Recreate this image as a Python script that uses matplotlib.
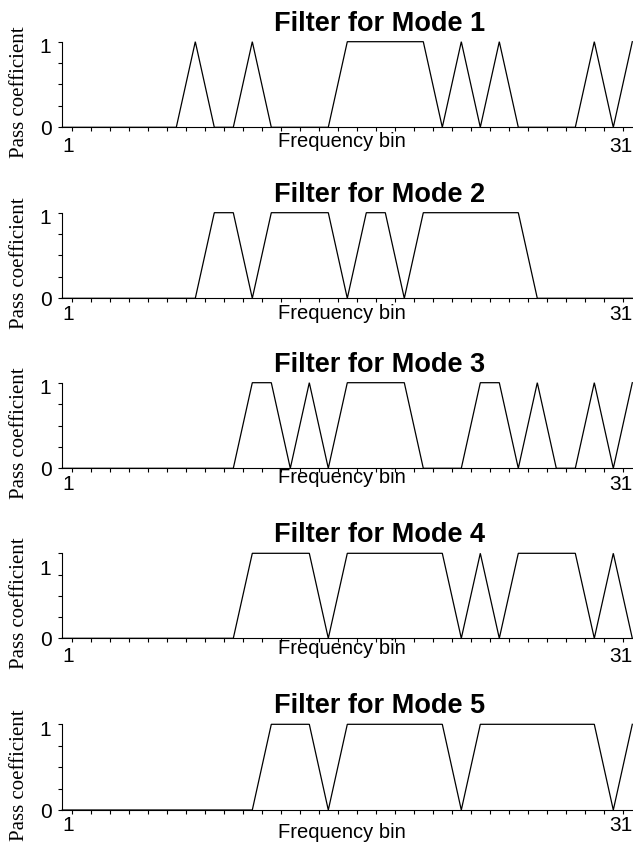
import numpy as np
import matplotlib
matplotlib.use("Agg")
import matplotlib.pyplot as plt
from matplotlib.transforms import ScaledTranslation

# Pass coefficient per frequency bin (bins 1..31) for each mode
bins = list(range(1, 32))
mode1 = [0, 0, 0, 0, 0, 0, 0, 1, 0, 0, 1, 0, 0, 0, 0, 1, 1, 1, 1, 1, 0, 1, 0, 1, 0, 0, 0, 0, 1, 0, 1]
mode2 = [0, 0, 0, 0, 0, 0, 0, 0, 1, 1, 0, 1, 1, 1, 1, 0, 1, 1, 0, 1, 1, 1, 1, 1, 1, 0, 0, 0, 0, 0, 0]
mode3 = [0, 0, 0, 0, 0, 0, 0, 0, 0, 0, 1, 1, 0, 1, 0, 1, 1, 1, 1, 0, 0, 0, 1, 1, 0, 1, 0, 0, 1, 0, 1]
mode4 = [0, 0, 0, 0, 0, 0, 0, 0, 0, 0, 1, 1, 1, 1, 0, 1, 1, 1, 1, 1, 1, 0, 1, 0, 1, 1, 1, 1, 0, 1, 0]
mode5 = [0, 0, 0, 0, 0, 0, 0, 0, 0, 0, 0, 1, 1, 1, 0, 1, 1, 1, 1, 1, 1, 0, 1, 1, 1, 1, 1, 1, 1, 0, 1]
modes = [mode1, mode2, mode3, mode4, mode5]
titles = ["Filter for Mode 1", "Filter for Mode 2", "Filter for Mode 3",
          "Filter for Mode 4", "Filter for Mode 5"]
x_labels = ["1", "31"]
y_tick_vals = [0, 0.25, 0.5, 0.75, 1]

# layout (pixels in a 633x847 image): axes top / zero line per panel
W, H = 633, 847
ax_left, ax_right = 62.3, 632.3
tops = [41.7, 212.7, 382.7, 553.3, 724.3]
zeros = [127.3, 298.3, 468.3, 638.3, 810.0]
one_label_at = [4, 4, 4, 3, 4]              # which y tick carries the "1"
one_label_va = ["top", "top", "top", "baseline", "top"]
xtick_pad = [7.0, 5.0, 5.0, 6.5, 4.0]       # points
xlabel_off = [3.5, 3.8, 0.0, 0.8, 9.5]      # points below axis (bbox top)

plt.rcParams["font.family"] = ["Liberation Sans", "DejaVu Sans"]
fig = plt.figure(figsize=(W / 100, H / 100), dpi=100)

for i, vals in enumerate(modes):
    ax = fig.add_axes([ax_left / W, 1 - zeros[i] / H,
                       (ax_right - ax_left) / W, (zeros[i] - tops[i]) / H])
    ax.plot(bins, vals, color="black", lw=0.9, clip_on=False, solid_joinstyle="miter")
    ax.set_xlim(1, 31)
    ax.set_ylim(0, 1)

    for s in ["top", "right"]:
        ax.spines[s].set_visible(False)
    for s in ["left", "bottom"]:
        ax.spines[s].set_linewidth(0.8)

    # x axis: labels only at the ends, small ticks between bins
    ax.set_xticks([1, 31])
    ax.set_xticklabels(x_labels, fontsize=15)
    ax.tick_params(axis="x", which="major", length=0, pad=xtick_pad[i])
    xt = ax.get_xticklabels()
    xt[0].set_ha("left")
    xt[1].set_ha("right")
    ax.set_xticks(np.concatenate([[1], np.arange(1.5, 31, 1)]), minor=True)
    ax.tick_params(axis="x", which="minor", direction="out", length=2.8, width=0.8)

    # y axis
    ylabs = ["0", "", "", "", ""]
    ylabs[one_label_at[i]] = "1"
    ax.set_yticks(y_tick_vals)
    ax.set_yticklabels(ylabs, fontsize=15)
    ax.tick_params(axis="y", direction="out", length=2.8, width=0.8, pad=5)
    lab1 = ax.yaxis.get_major_ticks()[one_label_at[i]].label1
    lab1.set_va(one_label_va[i])
    if one_label_va[i] == "top":
        lab1.set_transform(lab1.get_transform() + ScaledTranslation(0, 2.5 / 72, fig.dpi_scale_trans))

    ax.text(0.556, 1 + 11 / (zeros[i] - tops[i]), titles[i], transform=ax.transAxes,
            ha="center", va="baseline", fontsize=19.5, fontweight="bold")
    ax.annotate("Frequency bin", xy=(0.49, 0), xycoords="axes fraction",
                xytext=(0, -xlabel_off[i]), textcoords="offset points",
                ha="center", va="top", fontsize=14.5)
    ax.text(-0.075, 0.41, "Pass coefficient", transform=ax.transAxes, rotation=90,
            ha="center", va="center", fontsize=15, family=["Liberation Serif", "DejaVu Serif"])

fig.savefig("out.png", dpi=100)
